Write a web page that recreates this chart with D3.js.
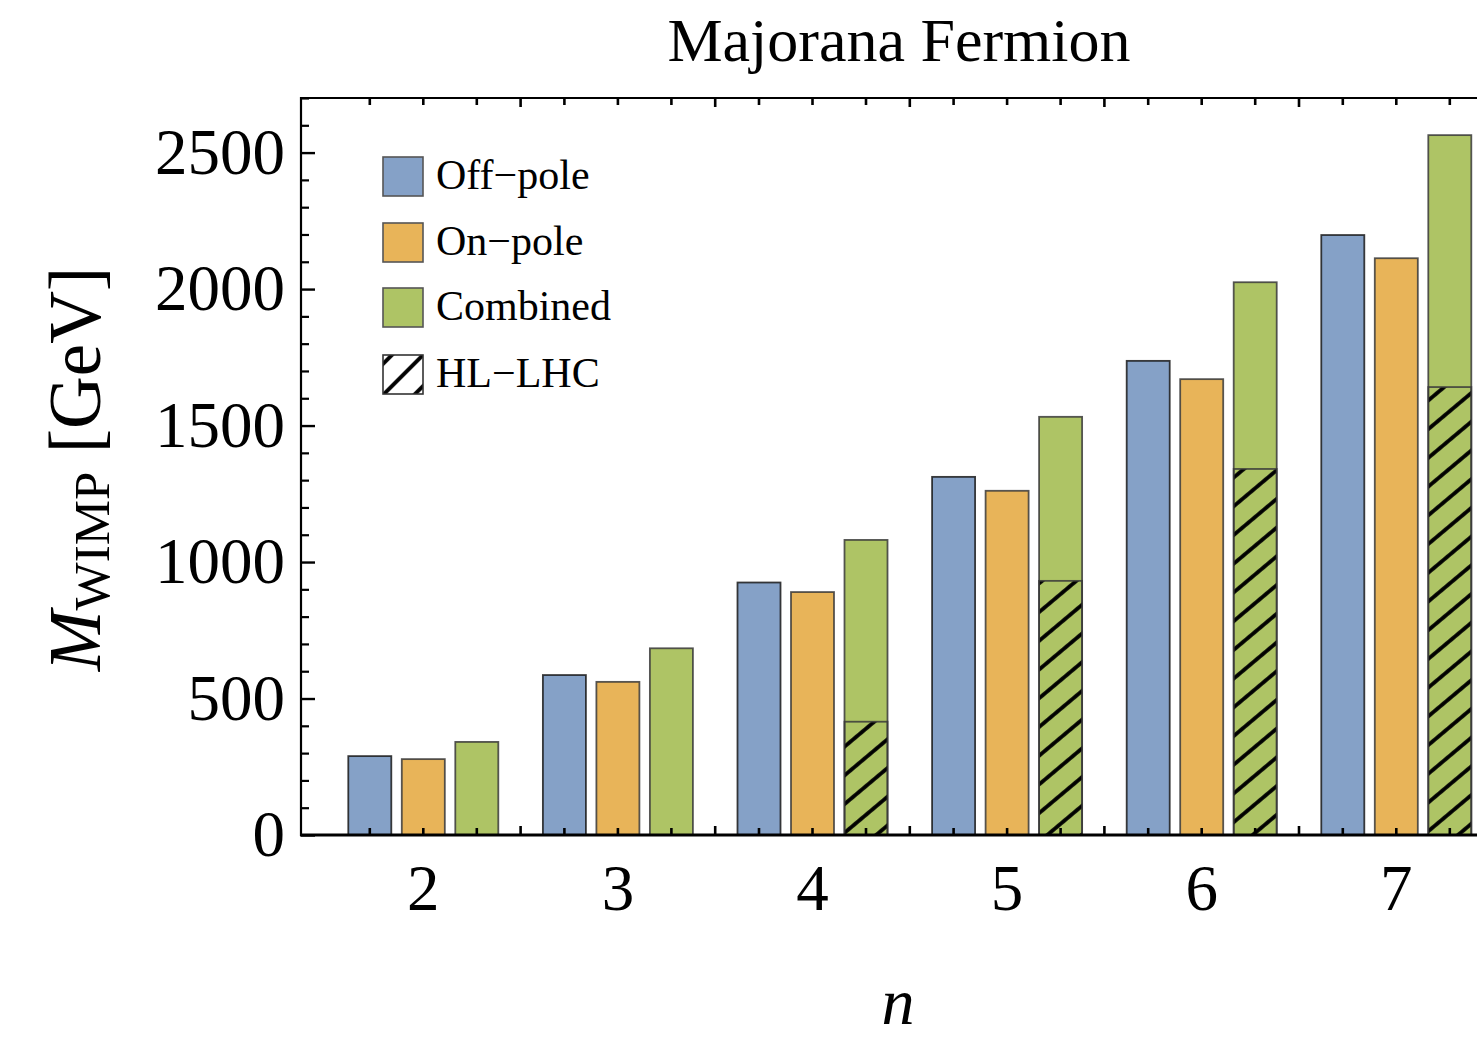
<!DOCTYPE html>
<html>
<head>
<meta charset="utf-8">
<script src="https://cdn.jsdelivr.net/npm/d3@7"></script>
<style>
  html, body { margin: 0; padding: 0; background: #fff; }
  svg { display: block; }
  text { font-family: "Liberation Serif", "DejaVu Serif", serif; fill: #000; }
</style>
</head>
<body>
<svg id="chart" width="1477" height="1042"></svg>
<script>
// ---- data ----
const categories = [2, 3, 4, 5, 6, 7];
const seriesNames = ["Off\u2212pole", "On\u2212pole", "Combined"];
const offPole  = [289, 586, 925, 1312, 1737, 2198];
const onPole   = [278, 561, 890, 1261, 1670, 2113];
const combined = [341, 684, 1081, 1532, 2025, 2564];
const hlLhc    = [0, 0, 415, 931, 1341, 1641];   // hatched part of Combined
const yMajorTicks = [0, 500, 1000, 1500, 2000, 2500];
const yMinorTicks = d3.range(0, 2701, 100).filter(v => v % 500 !== 0);
const colors = ["#85a1c7", "#e8b459", "#aec465"];
const legendLabels = ["Off\u2212pole", "On\u2212pole", "Combined", "HL\u2212LHC"];

const svg = d3.select("#chart");

// ---- scales ----
const plotLeft = 301, plotTop = 98, plotBottom = 835, groupStep = 194.6;
const x = d3.scaleBand()
  .domain(categories)
  .range([plotLeft + 25, plotLeft + 25 + groupStep * categories.length])
  .paddingInner(0).paddingOuter(0);
const xInner = d3.scaleBand()
  .domain([0, 1, 2])
  .range([0, x.bandwidth()])
  .paddingInner(0.196).paddingOuter(0.4166);
const y = d3.scaleLinear().domain([0, 2700]).range([plotBottom, plotTop]);

// ---- patterns ----
const defs = svg.append("defs");
defs.append("pattern")
  .attr("id", "hatch").attr("patternUnits", "userSpaceOnUse")
  .attr("width", 10).attr("height", 22)
  .attr("patternTransform", "translate(0,5) rotate(-40)")
  .append("line").attr("x1", -2).attr("x2", 12).attr("y1", 11).attr("y2", 11)
  .attr("stroke", "#000").attr("stroke-width", 3.8);
defs.append("pattern")
  .attr("id", "hatchLegend").attr("patternUnits", "userSpaceOnUse")
  .attr("width", 10).attr("height", 22)
  .attr("patternTransform", "translate(403,375) rotate(-45) translate(0,-11)")
  .append("line").attr("x1", -2).attr("x2", 12).attr("y1", 11).attr("y2", 11)
  .attr("stroke", "#000").attr("stroke-width", 3.8);
defs.append("clipPath").attr("id", "plotClip")
  .append("rect").attr("x", plotLeft).attr("y", plotTop).attr("width", 1300).attr("height", plotBottom - plotTop);

// ---- bars ----
const series = [offPole, onPole, combined];
const barRows = [];
categories.forEach((c, i) => {
  series.forEach((s, j) => barRows.push({ cat: c, j, v: s[i], hl: j === 2 ? hlLhc[i] : 0 }));
});
const barsG = svg.append("g").attr("clip-path", "url(#plotClip)");
barsG.selectAll("rect.bar").data(barRows).join("rect")
  .attr("class", "bar")
  .attr("x", d => x(d.cat) + xInner(d.j))
  .attr("width", xInner.bandwidth())
  .attr("y", d => y(d.v))
  .attr("height", d => y(0) - y(d.v))
  .attr("fill", d => colors[d.j])
  .attr("stroke", d => d.j === 0 ? "#1a1a1a" : "#3a3a3a")
  .attr("stroke-opacity", 0.85)
  .attr("stroke-width", 1.8);
const hatched = barRows.filter(d => d.hl > 0);
barsG.selectAll("rect.hl").data(hatched).join("rect")
  .attr("class", "hl")
  .attr("x", d => x(d.cat) + xInner(d.j))
  .attr("width", xInner.bandwidth())
  .attr("y", d => y(d.hl))
  .attr("height", d => y(0) - y(d.hl))
  .attr("fill", "url(#hatch)")
  .attr("stroke", "#3a3a3a").attr("stroke-opacity", 0.85).attr("stroke-width", 1.8);

// ---- frame ----
svg.append("line").attr("x1", plotLeft).attr("x2", plotLeft).attr("y1", plotTop - 1).attr("y2", plotBottom + 1)
  .attr("stroke", "#000").attr("stroke-width", 2.2);
svg.append("line").attr("x1", plotLeft - 1).attr("x2", 1480).attr("y1", plotTop).attr("y2", plotTop)
  .attr("stroke", "#000").attr("stroke-width", 2.2);
svg.append("line").attr("x1", plotLeft - 1).attr("x2", 1480).attr("y1", plotBottom).attr("y2", plotBottom)
  .attr("stroke", "#000").attr("stroke-width", 3);

// ---- y axis ----
const yAxisG = svg.append("g").attr("transform", `translate(${plotLeft},0)`)
  .call(d3.axisLeft(y).tickValues(yMajorTicks).tickFormat(d3.format("d")).tickSize(-14).tickPadding(16));
yAxisG.select(".domain").remove();
yAxisG.selectAll(".tick line").attr("stroke", "#000").attr("stroke-width", 2.4);
yAxisG.selectAll(".tick text").style("font-size", "65px").style("font-family", "Liberation Serif");
const yMinorG = svg.append("g").attr("transform", `translate(${plotLeft},0)`)
  .call(d3.axisLeft(y).tickValues(yMinorTicks).tickSize(-8).tickFormat(""));
yMinorG.select(".domain").remove();
yMinorG.selectAll(".tick line").attr("stroke", "#000").attr("stroke-width", 2.2);

// ---- x ticks (bar centres and group separators) ----
const barCenters = barRows.map(d => x(d.cat) + xInner(d.j) + xInner.bandwidth() / 2);
const separators = categories.slice(1).map(c => x(c));
const tickData = barCenters.map(p => ({ p, len: 7 })).concat(separators.map(p => ({ p, len: 9 })));
const tg = svg.append("g").attr("clip-path", "url(#plotClip)");
tg.selectAll("line.bt").data(tickData).join("line").attr("class", "bt")
  .attr("x1", d => d.p).attr("x2", d => d.p)
  .attr("y1", plotBottom).attr("y2", d => plotBottom - d.len)
  .attr("stroke", "#000").attr("stroke-width", 2.6);
tg.selectAll("line.tt").data(tickData).join("line").attr("class", "tt")
  .attr("x1", d => d.p).attr("x2", d => d.p)
  .attr("y1", plotTop).attr("y2", d => plotTop + d.len)
  .attr("stroke", "#000").attr("stroke-width", 2.6);

const xAxisG = svg.append("g").attr("transform", `translate(0,${plotBottom})`)
  .call(d3.axisBottom(x).tickSize(0).tickPadding(29));
xAxisG.select(".domain").remove();
xAxisG.selectAll(".tick text").style("font-size", "65px").style("font-family", "Liberation Serif");

// ---- titles ----
svg.append("text").attr("x", 899).attr("y", 61).attr("text-anchor", "middle")
  .style("font-size", "62px").text("Majorana Fermion");
svg.append("text").attr("x", 898).attr("y", 1024).attr("text-anchor", "middle")
  .style("font-size", "66px").style("font-style", "italic").text("n");
const yl = svg.append("text").attr("transform", "translate(100,469) rotate(-90)")
  .attr("text-anchor", "middle").style("font-size", "73px");
yl.append("tspan").style("font-style", "italic").text("M");
yl.append("tspan").attr("dy", 9).style("font-size", "51px").text("WIMP");
yl.append("tspan").attr("dy", -9).text(" [GeV]");

// ---- legend ----
const legendY = [157, 223, 288, 355];
const lg = svg.append("g");
legendLabels.forEach((lab, i) => {
  lg.append("rect").attr("x", 383).attr("y", legendY[i]).attr("width", 40).attr("height", 39)
    .attr("fill", i < 3 ? colors[i] : "url(#hatchLegend)")
    .attr("stroke", i < 3 ? "#555" : "#333").attr("stroke-width", 1.6);
  lg.append("text").attr("x", 436).attr("y", legendY[i] + 32)
    .style("font-size", "42px").text(lab);
});
</script>
</body>
</html>
